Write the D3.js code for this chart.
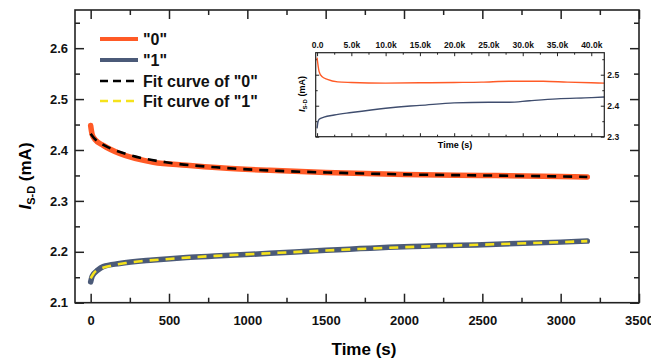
<!DOCTYPE html>
<html><head><meta charset="utf-8">
<script src="https://cdn.jsdelivr.net/npm/d3@7"></script>
<style>body{margin:0;background:#fff}svg{display:block;font-family:"Liberation Sans",Arial,sans-serif;font-weight:bold}</style>
</head><body><svg id="c" width="651" height="360"></svg>
<script>
// ---- main data ----
const time0 = [0, 10, 30, 80, 185, 400, 612, 825, 1144, 1500, 2000, 2500, 3000, 3170];
const curr0 = [2.448, 2.430, 2.420, 2.409, 2.393, 2.376, 2.370, 2.365, 2.360, 2.356, 2.352, 2.350, 2.348, 2.347];
const time1 = [0, 10, 45, 80, 185, 400, 612, 825, 1144, 1500, 2000, 2500, 3000, 3170];
const curr1 = [2.141, 2.152, 2.164, 2.171, 2.177, 2.184, 2.189, 2.192, 2.197, 2.203, 2.210, 2.214, 2.219, 2.221];
const fitTime = [0, 20, 60, 120, 250, 500, 800, 1200, 1600, 2000, 2500, 3000, 3170];
const fit0 = [2.432, 2.424, 2.414, 2.404, 2.390, 2.375, 2.366, 2.359, 2.355, 2.352, 2.350, 2.348, 2.347];
const fit1 = [2.148, 2.158, 2.166, 2.172, 2.179, 2.186, 2.192, 2.198, 2.204, 2.209, 2.214, 2.219, 2.221];
const xTicks = [0, 500, 1000, 1500, 2000, 2500, 3000, 3500];
const yTicks = [2.1, 2.2, 2.3, 2.4, 2.5, 2.6];
const legendLabels = ['"0"', '"1"', 'Fit curve of "0"', 'Fit curve of "1"'];
// ---- inset data ----
const insetTime0 = [0, 100, 300, 700, 1500, 3000, 5000, 10000, 15000, 20000, 24000, 28000, 33000, 36500, 40000, 41900];
const insetCurr0 = [2.555, 2.537, 2.510, 2.494, 2.485, 2.477, 2.475, 2.473, 2.474, 2.475, 2.476, 2.479, 2.479, 2.476, 2.474, 2.473];
const insetTime1 = [0, 100, 300, 1000, 2500, 5000, 10000, 13600, 15000, 20000, 25000, 28000, 31000, 35000, 40000, 41900];
const insetCurr1 = [2.327, 2.345, 2.356, 2.363, 2.370, 2.378, 2.392, 2.399, 2.401, 2.409, 2.411, 2.411, 2.416, 2.422, 2.426, 2.428];
const insetXTicks = [0, 5000, 10000, 15000, 20000, 25000, 30000, 35000, 40000];
const insetXLabels = ['0.0', '5.0k', '10.0k', '15.0k', '20.0k', '25.0k', '30.0k', '35.0k', '40.0k'];
const insetYTicks = [2.3, 2.4, 2.5];

const C0 = '#ff5a26', C1 = '#4b5a78', CY = '#f5e21c';
const svg = d3.select('#c');

// ---------- main plot ----------
const L = 75, R = 639, T = 10, B = 302.7;
const x = d3.scaleLinear([-100, 3500], [L, R]);
const y = d3.scaleLinear([2.1, 2.675], [B, T]);

const fmtY = d3.format('.1f');
function minorTicks(g, xs, ys, xminor, yminor, mnr) {
  g.append('g').attr('transform', `translate(0,${ys.range()[0]})`)
    .call(d3.axisBottom(xs).tickValues(xminor).tickSize(-mnr).tickFormat(''));
  g.append('g').attr('transform', `translate(0,${ys.range()[1]})`)
    .call(d3.axisTop(xs).tickValues(xminor).tickSize(-mnr).tickFormat(''));
  g.append('g').attr('transform', `translate(${xs.range()[0]},0)`)
    .call(d3.axisLeft(ys).tickValues(yminor).tickSize(-mnr).tickFormat(''));
  g.append('g').attr('transform', `translate(${xs.range()[1]},0)`)
    .call(d3.axisRight(ys).tickValues(yminor).tickSize(-mnr).tickFormat(''));
  g.selectAll('.domain').remove();
}

const gm = svg.append('g');
const xMinor = d3.range(250, 3500, 500);
const yMinor = [2.15, 2.25, 2.35, 2.45, 2.55, 2.65];
minorTicks(gm, x, y, xMinor, yMinor, 5);
gm.append('g').attr('transform', `translate(0,${B})`)
  .call(d3.axisBottom(x).tickValues(xTicks).tickSize(-9).tickPadding(13).tickFormat(d3.format('d')));
gm.append('g').attr('transform', `translate(0,${T})`)
  .call(d3.axisTop(x).tickValues(xTicks).tickSize(-9).tickFormat(''));
gm.append('g').attr('transform', `translate(${L},0)`)
  .call(d3.axisLeft(y).tickValues(yTicks).tickSize(-9).tickPadding(7).tickFormat(fmtY));
gm.append('g').attr('transform', `translate(${R},0)`)
  .call(d3.axisRight(y).tickValues(yTicks).tickSize(-9).tickFormat(''));
gm.selectAll('.domain').remove();
gm.selectAll('.tick line').attr('stroke', '#222').attr('stroke-width', 1.5);
gm.selectAll('.tick text').attr('font-size', 13).attr('font-weight', 'bold')
  .attr('font-family', '"Liberation Sans",Arial,sans-serif').attr('fill', '#111');
gm.append('rect').attr('x', L).attr('y', T).attr('width', R - L).attr('height', B - T)
  .attr('fill', 'none').attr('stroke', '#222').attr('stroke-width', 1.6);

const line = (xs, ys) => d3.line().x(d => xs(d[0])).y(d => ys(d[1])).curve(d3.curveMonotoneX);
const zip = (a, b) => a.map((v, i) => [v, b[i]]);

const plot = svg.append('g');
plot.append('path').datum(zip(time0, curr0)).attr('d', line(x, y)).attr('fill', 'none')
  .attr('stroke', C0).attr('stroke-width', 5.5).attr('stroke-linecap', 'round');
plot.append('path').datum(zip(time1, curr1)).attr('d', line(x, y)).attr('fill', 'none')
  .attr('stroke', C1).attr('stroke-width', 5.5).attr('stroke-linecap', 'round');
plot.append('path').datum(zip(fitTime, fit0)).attr('d', line(x, y)).attr('fill', 'none')
  .attr('stroke', '#000').attr('stroke-width', 2.6).attr('stroke-dasharray', '9,7');
plot.append('path').datum(zip(fitTime, fit1)).attr('d', line(x, y)).attr('fill', 'none')
  .attr('stroke', CY).attr('stroke-width', 2.6).attr('stroke-dasharray', '9,7');

// axis titles
svg.append('text').attr('x', 364).attr('y', 355).attr('text-anchor', 'middle')
  .attr('font-size', 17).text('Time (s)');
const yl = svg.append('text').attr('transform', 'translate(31,176) rotate(-90)')
  .attr('text-anchor', 'middle').attr('font-size', 17);
yl.append('tspan').attr('font-style', 'italic').text('I');
yl.append('tspan').attr('font-size', 11).attr('dy', 4).text('S-D');
yl.append('tspan').attr('dy', -4).text(' (mA)');

// legend
const legY = [39, 60, 81, 101];
const lg = svg.append('g');
legendLabels.forEach((lab, i) => {
  const st = [C0, C1, '#000', CY][i];
  lg.append('line').attr('x1', 100).attr('x2', 138).attr('y1', legY[i]).attr('y2', legY[i])
    .attr('stroke', st).attr('stroke-width', i < 2 ? 4 : 2.6)
    .attr('stroke-dasharray', i < 2 ? null : '8,5');
  lg.append('text').attr('x', 143).attr('y', legY[i]).attr('dy', '0.36em')
    .attr('font-size', 16).attr('fill', '#111').text(lab);
});

// ---------- inset ----------
const iL = 315.7, iR = 604.3, iT = 52.7, iB = 136.7;
const xi = d3.scaleLinear([-200, 41900], [iL, iR]);
const yi = d3.scaleLinear([2.3, 2.571], [iB, iT]);
const gi = svg.append('g');
minorTicks(gi, xi, yi, d3.range(2500, 42000, 5000), [2.35, 2.45, 2.55], 2);
gi.append('g').attr('transform', `translate(0,${iB})`)
  .call(d3.axisBottom(xi).tickValues(insetXTicks).tickSize(-3.5).tickFormat(''));
gi.append('g').attr('transform', `translate(0,${iT})`)
  .call(d3.axisTop(xi).tickValues(insetXTicks).tickSize(-3.5).tickPadding(5)
    .tickFormat((d, i) => insetXLabels[i]));
gi.append('g').attr('transform', `translate(${iL},0)`)
  .call(d3.axisLeft(yi).tickValues(insetYTicks).tickSize(-3.5).tickFormat(''));
gi.append('g').attr('transform', `translate(${iR},0)`)
  .call(d3.axisRight(yi).tickValues(insetYTicks).tickSize(-3.5).tickPadding(3).tickFormat(fmtY));
gi.selectAll('.domain').remove();
gi.selectAll('.tick line').attr('stroke', '#222').attr('stroke-width', 1);
gi.selectAll('.tick text').attr('font-size', 8.5).attr('font-weight', 'bold')
  .attr('font-family', '"Liberation Sans",Arial,sans-serif').attr('fill', '#111');
gi.append('path').datum(zip(insetTime0, insetCurr0)).attr('d', line(xi, yi)).attr('fill', 'none')
  .attr('stroke', C0).attr('stroke-width', 1.4);
gi.append('path').datum(zip(insetTime1, insetCurr1)).attr('d', line(xi, yi)).attr('fill', 'none')
  .attr('stroke', '#3f4d6e').attr('stroke-width', 1.4);
gi.append('rect').attr('x', iL).attr('y', iT).attr('width', iR - iL).attr('height', iB - iT)
  .attr('fill', 'none').attr('stroke', '#222').attr('stroke-width', 1.2);
svg.append('text').attr('x', 455).attr('y', 148).attr('text-anchor', 'middle')
  .attr('font-size', 9).text('Time (s)');
const yil = svg.append('text').attr('transform', 'translate(305,94) rotate(-90)')
  .attr('text-anchor', 'middle').attr('font-size', 9);
yil.append('tspan').attr('font-style', 'italic').text('I');
yil.append('tspan').attr('font-size', 6).attr('dy', 2).text('S-D');
yil.append('tspan').attr('dy', -2).text(' (mA)');
</script></body></html>
